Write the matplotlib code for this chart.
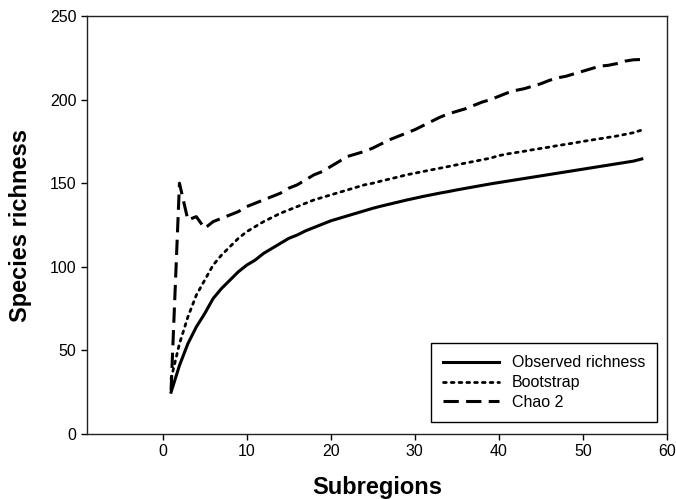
"""Species accumulation curves: observed richness, Bootstrap and Chao 2."""
import matplotlib
matplotlib.use("Agg")
import matplotlib.pyplot as plt

plt.rcParams["font.family"] = ["Liberation Sans", "DejaVu Sans"]

subregions = list(range(1, 58))

observed = [25, 41, 54, 64, 72, 81, 87, 92, 97, 101,
            104, 108, 111, 114, 117, 119, 121.5, 123.5, 125.5, 127.5,
            129, 130.5, 132, 133.5, 135, 136.3, 137.5, 138.7, 139.9, 141,
            142.1, 143.1, 144.1, 145, 146, 146.9, 147.8, 148.7, 149.6, 150.4,
            151.2, 152, 152.8, 153.6, 154.4, 155.2, 156, 156.8, 157.6, 158.4,
            159.2, 160, 160.8, 161.6, 162.4, 163.2, 164.5]

bootstrap = [33, 54, 70, 83, 92, 101, 107, 112, 117, 121,
             124, 127, 129.5, 132, 134, 136, 138, 140, 141.5, 143,
             144.5, 146, 147.5, 149, 150, 151.3, 152.5, 153.7, 155, 156,
             157, 158, 159, 160, 161, 162, 163, 164, 165, 166.5,
             167.5, 168.3, 169.1, 170, 170.8, 171.6, 172.5, 173.3, 174.1, 175,
             175.8, 176.6, 177.4, 178.2, 179.2, 180.2, 181.8]

chao2 = [26, 150, 128, 130, 123, 127, 129, 131, 133, 136,
         138, 140, 142, 144, 147, 149, 152, 155, 157, 160,
         163, 166, 167.5, 169, 171, 173.5, 176, 178, 180, 182,
         184.5, 187, 189.5, 191.5, 193, 194.5, 196.5, 198.5, 200, 202,
         204, 205.5, 206.5, 208, 209.5, 211.5, 213, 214, 215.5, 217,
         218.5, 220, 220.5, 221.5, 223, 223.8, 224]

fig = plt.figure(figsize=(6.76, 4.99), dpi=100)
ax = fig.add_axes([87 / 676, 1 - 434 / 499, 580 / 676, 418 / 499])

ax.plot(subregions, observed, color="black", lw=2.2, label="Observed richness")
ax.plot(subregions, bootstrap, color="black", lw=2.0, ls=(0, (1, 1.8)),
        dash_capstyle="round", label="Bootstrap")
ax.plot(subregions, chao2, color="black", lw=2.2, ls=(0, (5, 2.4)),
        label="Chao 2")

ax.set_xlim(-9, 60)
ax.set_ylim(0, 250)
ax.set_xticks([0, 10, 20, 30, 40, 50, 60])
ax.set_yticks([0, 50, 100, 150, 200, 250])
ax.tick_params(direction="out", length=4, width=1, labelsize=11.5, colors="black")
for sp in ax.spines.values():
    sp.set_color("#222222")
    sp.set_linewidth(1.0)

ax.set_xlabel("Subregions", fontsize=17, fontweight="bold", labelpad=12)
ax.set_ylabel("Species richness", fontsize=17, fontweight="bold", labelpad=13)

leg = ax.legend(loc="lower right", bbox_to_anchor=(0.983, 0.029),
                borderaxespad=0, fontsize=11.5, fancybox=False, framealpha=1,
                edgecolor="black", handlelength=3.5, handletextpad=0.8,
                borderpad=0.75, labelspacing=0.3)
leg.get_frame().set_linewidth(1.0)

fig.savefig("out.png", dpi=100)
